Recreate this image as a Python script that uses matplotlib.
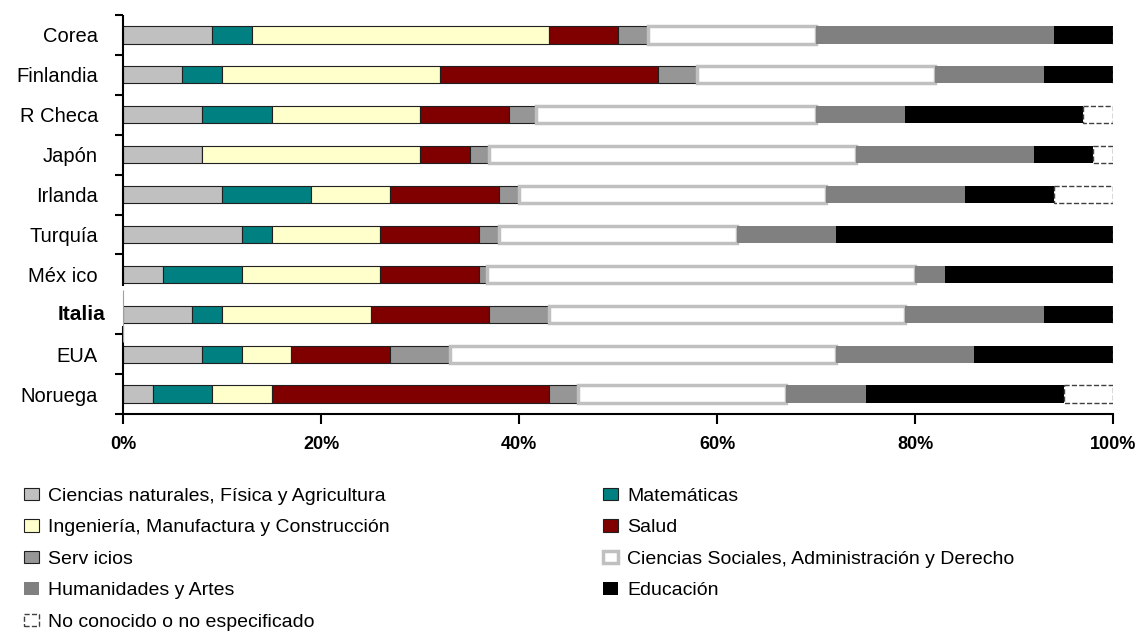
import matplotlib.pyplot as plt
import numpy as np
from matplotlib.patches import Patch

plt.rcParams['font.family'] = ['Liberation Sans', 'DejaVu Sans']

countries = ["Corea", "Finlandia", "R Checa", "Japón", "Irlanda", "Turquía",
             "Méx ico", "Italia", "EUA", "Noruega"]

# percentages (one value per country)
nat = [9, 6, 8, 8, 10, 12, 4, 7, 8, 3]
mat = [4, 4, 7, 0, 9, 3, 8, 3, 4, 6]
ing = [30, 22, 15, 22, 8, 11, 14, 15, 5, 6]
salud = [7, 22, 9, 5, 11, 10, 10, 12, 10, 28]
serv = [3, 4, 2.7, 2, 2, 2, 0.8, 6, 6, 3]
soc = [17, 24, 28.3, 37, 31, 24, 43.2, 36, 39, 21]
hum = [24, 11, 9, 18, 14, 10, 3, 14, 14, 8]
edu = [6, 7, 18, 6, 9, 28, 17, 7, 14, 20]
unk = [0, 0, 3, 2, 6, 0, 0, 0, 0, 5]

series = [
    ("Ciencias naturales, Física y Agricultura", nat, dict(color="#C0C0C0", edgecolor="#202020", lw=0.8)),
    ("Matemáticas", mat, dict(color="#008080", edgecolor="#202020", lw=0.8)),
    ("Ingeniería, Manufactura y Construcción", ing, dict(color="#FFFFCC", edgecolor="#202020", lw=0.8)),
    ("Salud", salud, dict(color="#800000", edgecolor="#202020", lw=0.8)),
    ("Serv icios", serv, dict(color="#969696", edgecolor="#202020", lw=0.8)),
    ("Ciencias Sociales, Administración y Derecho", soc, dict(color="white", edgecolor="#C0C0C0", lw=2.5)),
    ("Humanidades y Artes", hum, dict(color="#808080", edgecolor="#808080", lw=0)),
    ("Educación", edu, dict(color="black", edgecolor="black", lw=0)),
    ("No conocido o no especificado", unk, dict(color="white", edgecolor="#404040", lw=1.0, ls="--")),
]

fig = plt.figure(figsize=(11.42, 6.32), dpi=100)
ax = fig.add_axes([123/1142, 1-414/632, 990/1142, 399/632])

y = np.arange(len(countries))
left = np.zeros(len(countries))
handles = {}
for name, vals, st in series:
    vals = np.array(vals, dtype=float)
    ax.barh(y, vals, left=left, height=0.43, color=st["color"], edgecolor=st["edgecolor"],
            linewidth=st["lw"], linestyle=st.get("ls", "-"), zorder=2)
    handles[name] = Patch(facecolor=st["color"], edgecolor=st["edgecolor"],
                          linewidth=max(st["lw"], 0.8) if st["lw"] > 0 else 0,
                          linestyle=st.get("ls", "-"))
    left += vals

ax.set_xlim(0, 100)
ax.set_ylim(9.5, -0.5)

ax.set_xticks([0, 20, 40, 60, 80, 100])
ax.set_xticklabels(["0%", "20%", "40%", "60%", "80%", "100%"], fontweight="bold", fontsize=13)
ax.tick_params(axis="x", direction="out", length=7, width=1.5, pad=9)

ax.set_yticks(y)
labels = [c if c != "Italia" else "" for c in countries]
ax.set_yticklabels(labels, fontsize=14.5)
ax.tick_params(axis="y", which="major", length=0, pad=18)
ax.text(-1.8, 7, "Italia", fontsize=15, fontweight="bold", ha="right", va="center")
ax.set_yticks([-0.5, 0.5, 1.5, 2.5, 3.5, 4.5, 5.5, 7.5, 8.5, 9.5], minor=True)
ax.tick_params(axis="y", which="minor", direction="out", length=6, width=1.5)

for s in ["top", "right", "left"]:
    ax.spines[s].set_visible(False)
ax.spines["bottom"].set_linewidth(1.5)

# broken left axis around Italia
ax.vlines(0, -0.5, 6.28, color="black", lw=1.5, zorder=3, clip_on=False)
ax.vlines(0, 7.3, 9.5, color="black", lw=1.5, zorder=3, clip_on=False)
ax.vlines(0, 6.4, 7.7, color="#A0A0A0", lw=0.8, zorder=3, clip_on=False)

col1 = ["Ciencias naturales, Física y Agricultura", "Ingeniería, Manufactura y Construcción",
        "Serv icios", "Humanidades y Artes", "No conocido o no especificado"]
col2 = ["Matemáticas", "Salud", "Ciencias Sociales, Administración y Derecho", "Educación"]

kw = dict(frameon=False, fontsize=14, handlelength=0.75, handleheight=0.6,
          handletextpad=0.5, labelspacing=0.74, borderaxespad=0, borderpad=0)
leg1 = fig.legend([handles[n] for n in col1], col1, loc="upper left",
                  bbox_to_anchor=(24/1142, 1-488/632), **kw)
leg2 = fig.legend([handles[n] for n in col2], col2, loc="upper left",
                  bbox_to_anchor=(603/1142, 1-488/632), **kw)

fig.savefig("out.png", dpi=100)
